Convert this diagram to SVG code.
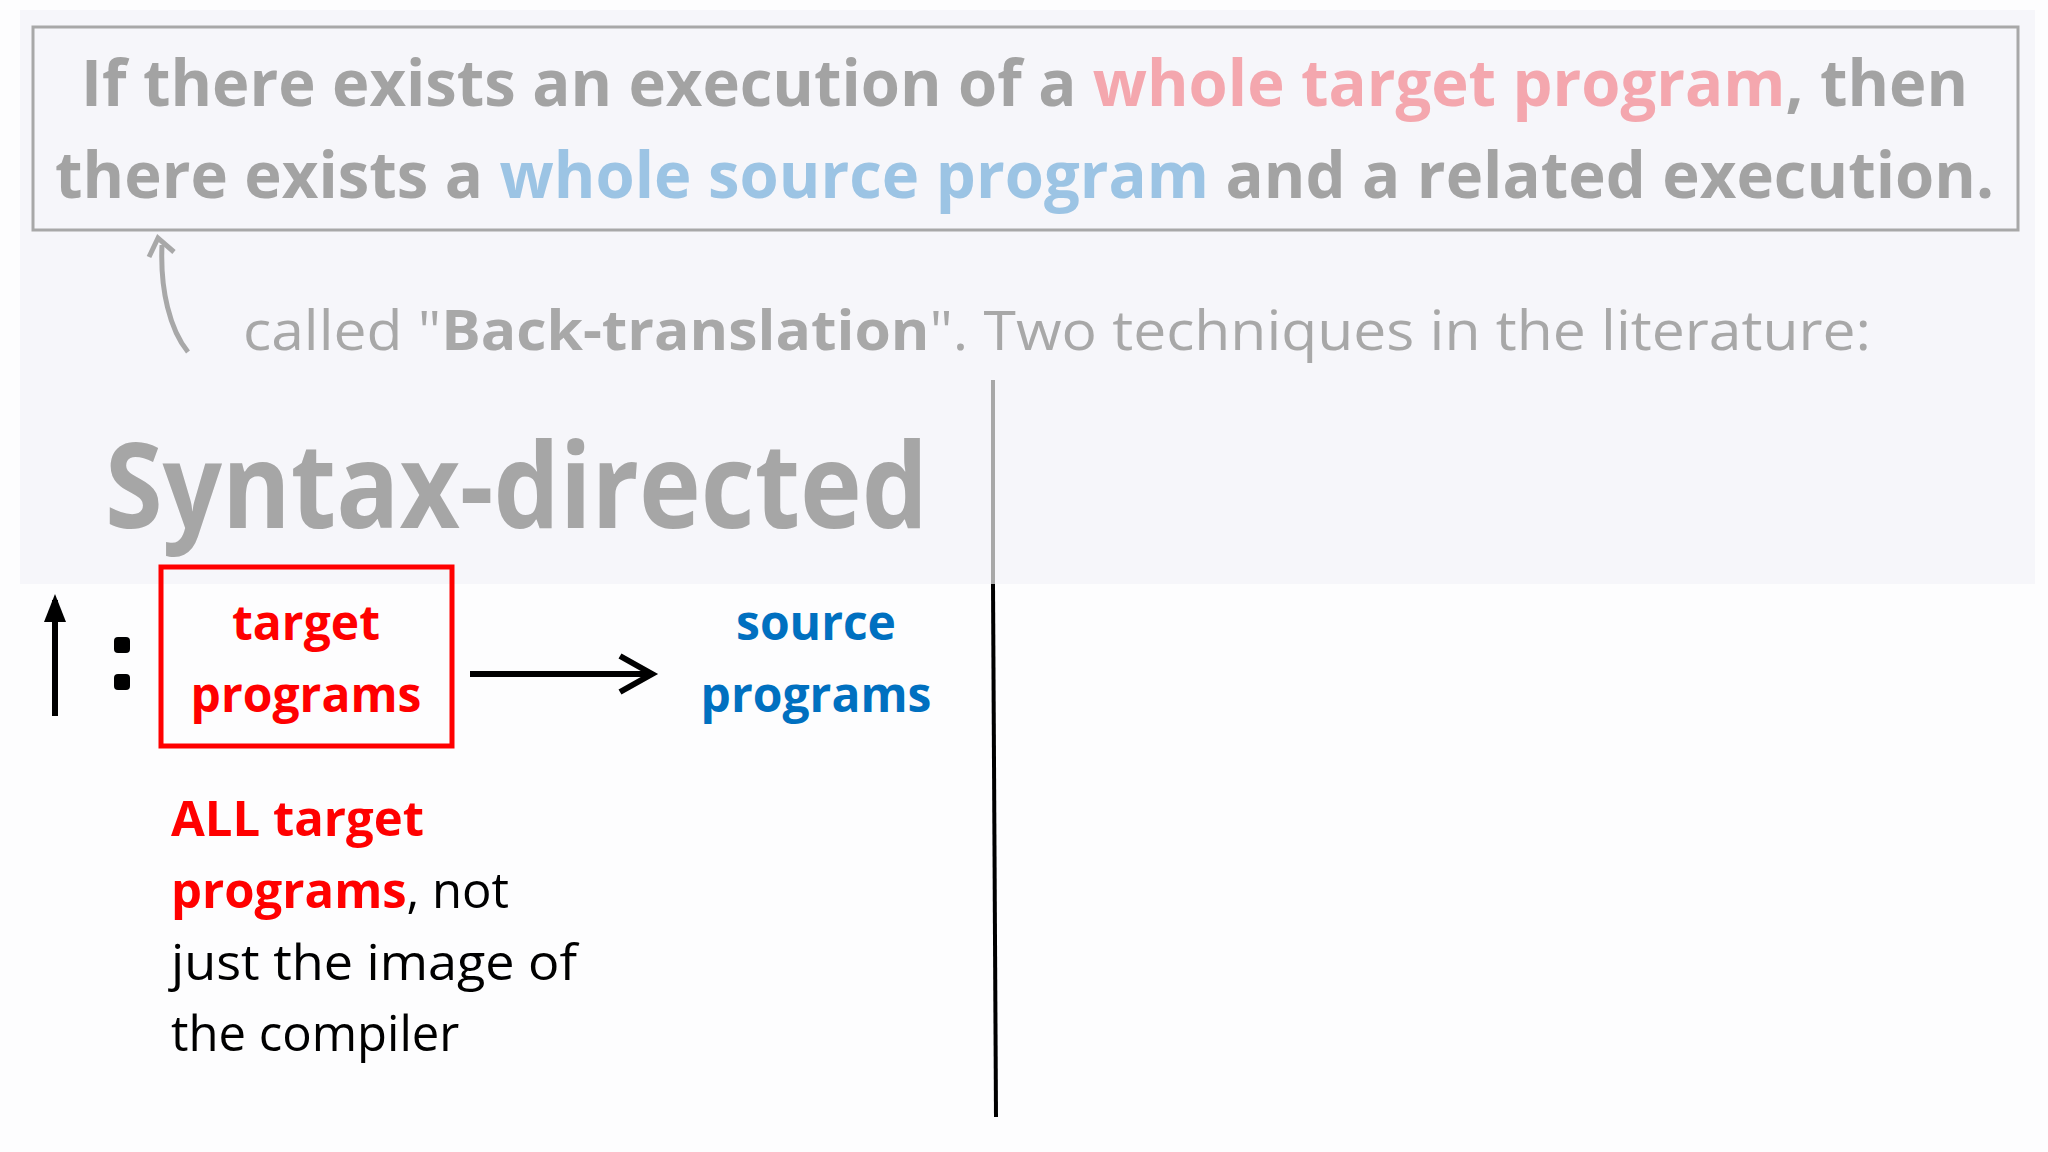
<svg xmlns="http://www.w3.org/2000/svg" width="2048" height="1152" viewBox="0 0 2048 1152">
<style>
text{font-family:"Open Sans","Noto Sans",sans-serif}
.g{fill:#a3a3a3;font-weight:bold;font-size:64px}
.pk{fill:#f4a7ae}.bl{fill:#9cc4e4}
.red{fill:#ff0000;font-weight:bold}
.blue{fill:#0070c0;font-weight:bold}
.body{fill:#000}
</style>
<defs>
<marker id="ah" markerWidth="10" markerHeight="10" refX="8" refY="5" orient="auto" markerUnits="userSpaceOnUse" viewBox="0 0 10 10"><path d="M0,0 L9,5 L0,10" fill="none" stroke="#000" stroke-width="1.4"/></marker>
</defs>
<rect width="2048" height="1152" fill="#fdfdfe"/>
<rect x="20" y="10" width="2015" height="574" fill="#f6f6fa"/>
<g id="header">
<rect x="33" y="27" width="1985" height="203" fill="none" stroke="#a8a8a8" stroke-width="3"/>
<text x="81" y="106" class="g" textLength="1887" lengthAdjust="spacingAndGlyphs">If there exists an execution of a <tspan class="pk">whole target program</tspan>, then</text>
<text x="55" y="198" class="g" textLength="1939" lengthAdjust="spacingAndGlyphs">there exists a <tspan class="bl">whole source program</tspan> and a related execution.</text>
</g>
<g id="note">
<text x="243" y="350" font-size="55" fill="#a8a8a8" textLength="1628" lengthAdjust="spacingAndGlyphs">called "<tspan font-weight="bold">Back-translation</tspan>". Two techniques in the literature:</text>
</g>
<g id="title">
<text x="105" y="528" font-size="118" font-weight="bold" fill="#a6a6a6" textLength="823" lengthAdjust="spacingAndGlyphs">Syntax-directed</text>
</g>
<g id="connectors">
<path d="M188,352 C170,330 160,290 162,245" fill="none" stroke="#a8a8a8" stroke-width="5"/>
<path d="M149,257 L158,238 L174,252" fill="none" stroke="#a8a8a8" stroke-width="5"/>
<line x1="993" y1="380" x2="993" y2="584" stroke="#a8a8a8" stroke-width="4"/>
<line x1="993" y1="584" x2="996" y2="1117" stroke="#000" stroke-width="4"/>
<line x1="55" y1="716" x2="55" y2="600" stroke="#000" stroke-width="6"/>
<path d="M44,622 L55,594 L66,622 Z" fill="#000"/>
<line x1="470" y1="674" x2="650" y2="674" stroke="#000" stroke-width="6"/>
<path d="M620,656 L652,674 L620,692" fill="none" stroke="#000" stroke-width="6"/>
</g>
<g id="colon">
<rect x="114" y="637" width="16" height="16" rx="4" fill="#000"/>
<rect x="114" y="674" width="16" height="16" rx="4" fill="#000"/>
</g>
<g id="target">
<rect x="161" y="567" width="291" height="179" fill="none" stroke="#ff0000" stroke-width="5"/>
<text x="306" y="640" text-anchor="middle" font-size="48" class="red">target</text>
<text x="306" y="712" text-anchor="middle" font-size="48" class="red">programs</text>
</g>
<g id="source">
<text x="816" y="640" text-anchor="middle" font-size="48" class="blue">source</text>
<text x="816" y="712" text-anchor="middle" font-size="48" class="blue">programs</text>
</g>
<g id="desc" class="body">
<text x="171" y="836" class="red" font-size="49">ALL target</text>
<text x="171" y="908" font-size="49"><tspan class="red">programs</tspan>, not</text>
<text x="171" y="980" font-size="49" textLength="406" lengthAdjust="spacingAndGlyphs">just the image of</text>
<text x="171" y="1051" font-size="49">the compiler</text>
</g>
</svg>
